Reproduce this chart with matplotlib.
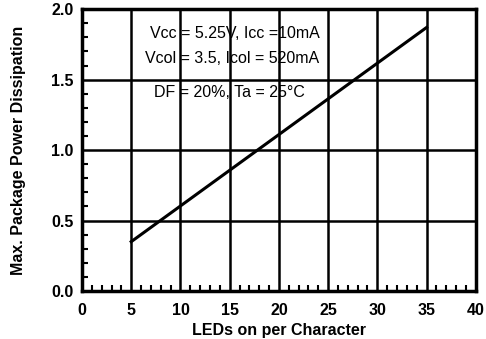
import matplotlib
matplotlib.use("Agg")
import matplotlib.pyplot as plt
from matplotlib.ticker import MultipleLocator

plt.rcParams['font.family'] = ['Liberation Sans', 'DejaVu Sans']

leds = [5, 35]
power = [0.35, 1.87]
x_ticks = [0, 5, 10, 15, 20, 25, 30, 35, 40]
y_ticks = [0.0, 0.5, 1.0, 1.5, 2.0]
notes = ["Vcc = 5.25V, Icc =10mA", "Vcol = 3.5, Icol = 520mA", "DF = 20%, Ta = 25°C"]

fig = plt.figure(figsize=(4.86, 3.39), dpi=100)
ax = fig.add_axes([0.1687, 0.1416, 0.8103, 0.8314])
ax.set_xlim(0, 40)
ax.set_ylim(0, 2.0)
ax.set_xticks(x_ticks)
ax.set_yticks(y_ticks)
ax.set_xticklabels([str(v) for v in x_ticks], fontsize=11.5, fontweight='bold')
ax.set_yticklabels([f"{v:.1f}" for v in y_ticks], fontsize=11.5, fontweight='bold')
ax.xaxis.set_minor_locator(MultipleLocator(1))
ax.yaxis.set_minor_locator(MultipleLocator(0.1))
ax.tick_params(which='major', length=0)
ax.tick_params(axis='x', which='major', pad=9)
ax.tick_params(axis='y', which='major', pad=6)
ax.tick_params(which='minor', direction='in', length=4, width=1.5, color='black')
ax.grid(True, which='major', color='black', linewidth=1.8)
for s in ax.spines.values():
    s.set_linewidth(2.5)
ax.plot(leds, power, color='black', linewidth=2.2)

ax.text(15.5, 1.83, notes[0], ha='center', va='center', fontsize=11.5)
ax.text(15.2, 1.65, notes[1], ha='center', va='center', fontsize=11.5)
ax.text(15.0, 1.41, notes[2], ha='center', va='center', fontsize=11.5)

ax.set_xlabel("LEDs on per Character", fontsize=11.5, fontweight='bold', labelpad=3)
ax.set_ylabel("Max. Package Power Dissipation", fontsize=11.5, fontweight='bold', labelpad=18)

fig.savefig("out.png", dpi=100)
